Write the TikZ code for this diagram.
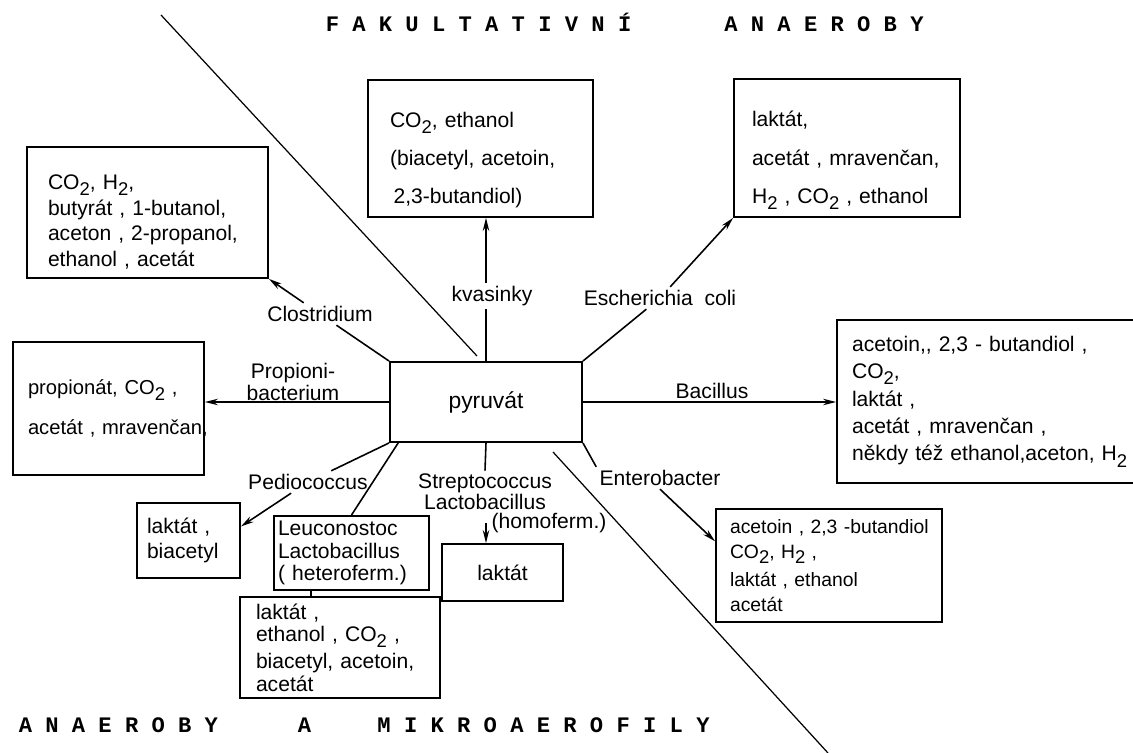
\documentclass[tikz,border=0pt]{standalone}
\usepackage{fontspec}
\setmainfont{Liberation Sans}
\newfontfamily\titlefont{Liberation Mono}
\usetikzlibrary{arrows.meta}
\newcommand\boxfont[2]{\fontsize{#1}{#2}\selectfont}
\newcommand\subs[1]{\raisebox{-0.55ex}{\fontsize{10.5}{10.5}\selectfont #1}}

\begin{document}
\begin{tikzpicture}[x=0.02cm, y=-0.02cm, line width=0.9pt,
  >={Stealth[length=0.26cm,width=0.13cm]},
  prod/.style={draw, line width=1.1pt, align=left, inner ysep=2pt},
  lbl/.style={inner sep=1.5pt, align=center, font=\boxfont{12}{14}},
  title/.style={anchor=west, inner sep=0pt, font=\titlefont\bfseries\boxfont{12.6}{14}}]
\useasboundingbox (0,0) rectangle (1133,753);
% titles
\node[title] (fak) at (325,22) {F A K U L T A T I V N Í~~~~~~~A N A E R O B Y};
\node[title] (ana) at (18,725) {A N A E R O B Y~~~~~~A~~~~~M I K R O A E R O F I L Y};
% dividing lines
\draw[line width=0.7pt] (161,15) -- (477,356);
\draw[line width=0.7pt] (553,452) -- (828,753);
% centre
\node[prod, minimum width=3.84cm, minimum height=1.6cm, font=\boxfont{13}{15}] (pyr) at (486,402) {pyruvát};
% products
\node[prod, text width=3.98cm, inner xsep=0.42cm, minimum height=2.62cm, font=\boxfont{12}{14.6}] (closbox) at (147.5,212.5)
  {\rule{0pt}{19pt}CO\subs{2}, H\subs{2},\\ \mbox{butyrát , 1-butanol,}\\ \mbox{aceton , 2-propanol,}\\ ethanol , acetát};
\node[prod, text width=3.62cm, inner xsep=0.44cm, minimum height=2.74cm, font=\boxfont{12}{21.5}] (kvasbox) at (480.5,148.5)
  {\rule{0pt}{22pt}CO\subs{2}, ethanol\\ \mbox{(biacetyl, acetoin,}\\ \mbox{\,2,3-butandiol)}};
\node[prod, text width=3.8cm, inner xsep=0.36cm, minimum height=2.76cm, font=\boxfont{12}{22}] (ecolibox) at (847,148)
  {\rule{0pt}{23pt}laktát,\\ \mbox{acetát , mravenčan,}\\ \mbox{H\subs{2} , CO\subs{2} , ethanol}};
\node[prod, text width=3.22cm, inner xsep=0.3cm, minimum height=2.66cm, font=\boxfont{11.5}{22.7}] (propbox) at (108.5,408.5)
  {\mbox{propionát, CO\subs{2} ,}\\ \mbox{acetát , mravenčan,}};
\node[prod, text width=5.56cm, inner xsep=0.3cm, minimum height=3.26cm, font=\boxfont{12}{15.6}] (bacbox) at (991,401.5)
  {\mbox{acetoin,{},\ 2,3 - butandiol ,}\\ CO\subs{2},\\ laktát ,\\ \mbox{acetát , mravenčan ,}\\ \mbox{někdy též ethanol,aceton, H\subs{2}}};
\node[prod, text width=3.96cm, inner xsep=0.28cm, minimum height=2.26cm, font=\boxfont{11}{14.2}] (enterobox) at (829,565.5)
  {\mbox{acetoin , 2,3 -butandiol}\\ CO\subs{2}, H\subs{2} ,\\[2pt] \mbox{laktát , ethanol}\\ acetát};
\node[prod, text width=1.66cm, inner xsep=0.2cm, minimum height=1.5cm, font=\boxfont{12}{14.2}] (pedbox) at (188.5,540.5)
  {laktát ,\\ biacetyl};
\node[prod, text width=2.94cm, inner xsep=0.08cm, minimum height=1.48cm, font=\boxfont{12}{13}] (leucobox) at (351.5,553)
  {Leuconostoc\\ Lactobacillus\\ \mbox{( heteroferm.)}};
\node[prod, text width=3.36cm, inner xsep=0.32cm, minimum height=2.02cm, font=\boxfont{12}{12.8}] (heterobox) at (340,647.5)
  {laktát ,\\ \mbox{ethanol , CO\subs{2} ,}\\[2.5pt] \mbox{biacetyl, acetoin,}\\ acetát};
\node[prod, minimum width=2.42cm, minimum height=1.14cm, font=\boxfont{12}{14}] (homobox) at (502.5,572.5) {laktát};
% organisms
\node[lbl] (clos) at (320,314) {Clostridium};
\node[lbl] (kvas) at (492,296) {kvasinky};
\node[lbl] (ecoli) at (660,298) {Escherichia\ \ coli};
\node[lbl, font=\boxfont{12}{10.2}] (propi) at (293,382) {Propioni-\\bacterium};
\node[lbl] (bacil) at (712,391) {Bacillus};
\node[lbl] (entero) at (660,478) {Enterobacter};
\node[lbl] (pedio) at (308,482) {Pediococcus};
\node[lbl, font=\boxfont{12}{12}] (strep) at (485,492) {Streptococcus\\Lactobacillus};
\node[lbl] (homof) at (549,523) {(homoferm.)};
% connectors
\draw (pyr.north west) -- (clos);
\draw[->] (clos) -- (closbox.south east);
\draw (pyr.north) -- (pyr.north |- kvas.south);
\draw[->] (pyr.north |- kvas.north) -- (pyr.north |- kvasbox.south);
\draw (pyr.north east) -- (ecoli);
\draw[->] (ecoli) -- (ecolibox.south west);
\draw[->] (pyr.west) -- (pyr.west -| propbox.east);
\draw[->] (pyr.east) -- (pyr.east -| bacbox.west);
\draw (pyr.south east) -- (entero.north west);
\draw[->] (entero.south) -- (enterobox.168);
\draw (pyr.south west) -- (pedio);
\draw[->] (pedio) -- (pedbox.15);
\draw (pyr.205) -- (leucobox.north);
\draw (leucobox.223) -- (leucobox.223 |- heterobox.north);
\draw (pyr.south) -- (strep.north);
\draw[->] (pyr.south |- homof.west) -- (pyr.south |- homobox.north);
\end{tikzpicture}
\end{document}
